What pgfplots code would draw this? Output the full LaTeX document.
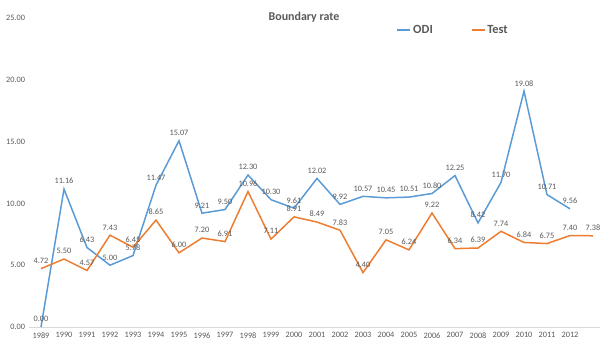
\documentclass[border=0pt]{standalone}
\usepackage{fontspec}
\setmainfont{Carlito}
\usepackage{pgfplots}
\pgfplotsset{compat=1.18}
\definecolor{odi}{HTML}{5B9BD5}
\definecolor{tst}{HTML}{ED7D31}
\definecolor{txt}{HTML}{595959}
\definecolor{axl}{HTML}{D9D9D9}
\begin{document}
\begin{tikzpicture}
\useasboundingbox (0,0) rectangle (600bp,350bp);
\begin{axis}[
  at={(29.5bp,23bp)}, anchor=south west,
  scale only axis, width=575bp, height=309bp,
  xmin=-0.5, xmax=24.5, ymin=0, ymax=25,
  xtick={0,...,23},
  xticklabels={1989,1990,1991,1992,1993,1994,1995,1996,1997,1998,1999,2000,2001,2002,2003,2004,2005,2006,2007,2008,2009,2010,2011,2012},
  ytick={0,5,10,15,20,25},
  yticklabel style={xshift=-1bp, /pgf/number format/.cd,fixed,fixed zerofill,precision=2},
  /pgf/number format/assume math mode=true,
  tick label style={font=\fontsize{8.3}{9}\selectfont, text=txt},
  axis x line*=bottom, axis y line*=left,
  x axis line style={axl, line width=0.8pt, -},
  y axis line style={draw=none},
  major tick length=0pt,
  xticklabel style={yshift=-2bp},
  clip=false,
  every node near coord/.append style={font=\fontsize{8.3}{9}\selectfont, text=txt, anchor=south, yshift=1bp},
  nodes near coords={\pgfmathprintnumber[fixed,fixed zerofill,precision=2]{\pgfplotspointmeta}},
  legend style={draw=none, fill=none, at={(0.737,0.961)}, anchor=center, legend columns=2, font=\bfseries\fontsize{12.5}{14}\selectfont, text=txt, /tikz/every even column/.append style={column sep=36bp}, inner sep=0pt},
  legend image code/.code={\draw[#1, line width=1.5pt] (0bp,0bp) -- (13bp,0bp);},
]
\addplot[odi, line width=1.5pt] coordinates {
(0,0.00)(1,11.16)(2,6.43)(3,5.00)(4,5.78)(5,11.47)(6,15.07)(7,9.21)(8,9.50)(9,12.30)(10,10.30)(11,9.61)(12,12.02)(13,9.92)(14,10.57)(15,10.45)(16,10.51)(17,10.80)(18,12.25)(19,8.42)(20,11.70)(21,19.08)(22,10.71)(23,9.56)};
\addlegendentry{ODI}
\addplot[tst, line width=1.5pt] coordinates {
(0,4.72)(1,5.50)(2,4.57)(3,7.43)(4,6.45)(5,8.65)(6,6.00)(7,7.20)(8,6.91)(9,10.96)(10,7.11)(11,8.91)(12,8.49)(13,7.83)(14,4.40)(15,7.05)(16,6.24)(17,9.22)(18,6.34)(19,6.39)(20,7.74)(21,6.84)(22,6.75)(23,7.40)(24,7.38)};
\addlegendentry{Test}
\end{axis}
\node[font=\bfseries\fontsize{12}{14}\selectfont, text=txt] at (304bp,333bp) {Boundary rate};
\end{tikzpicture}
\end{document}
